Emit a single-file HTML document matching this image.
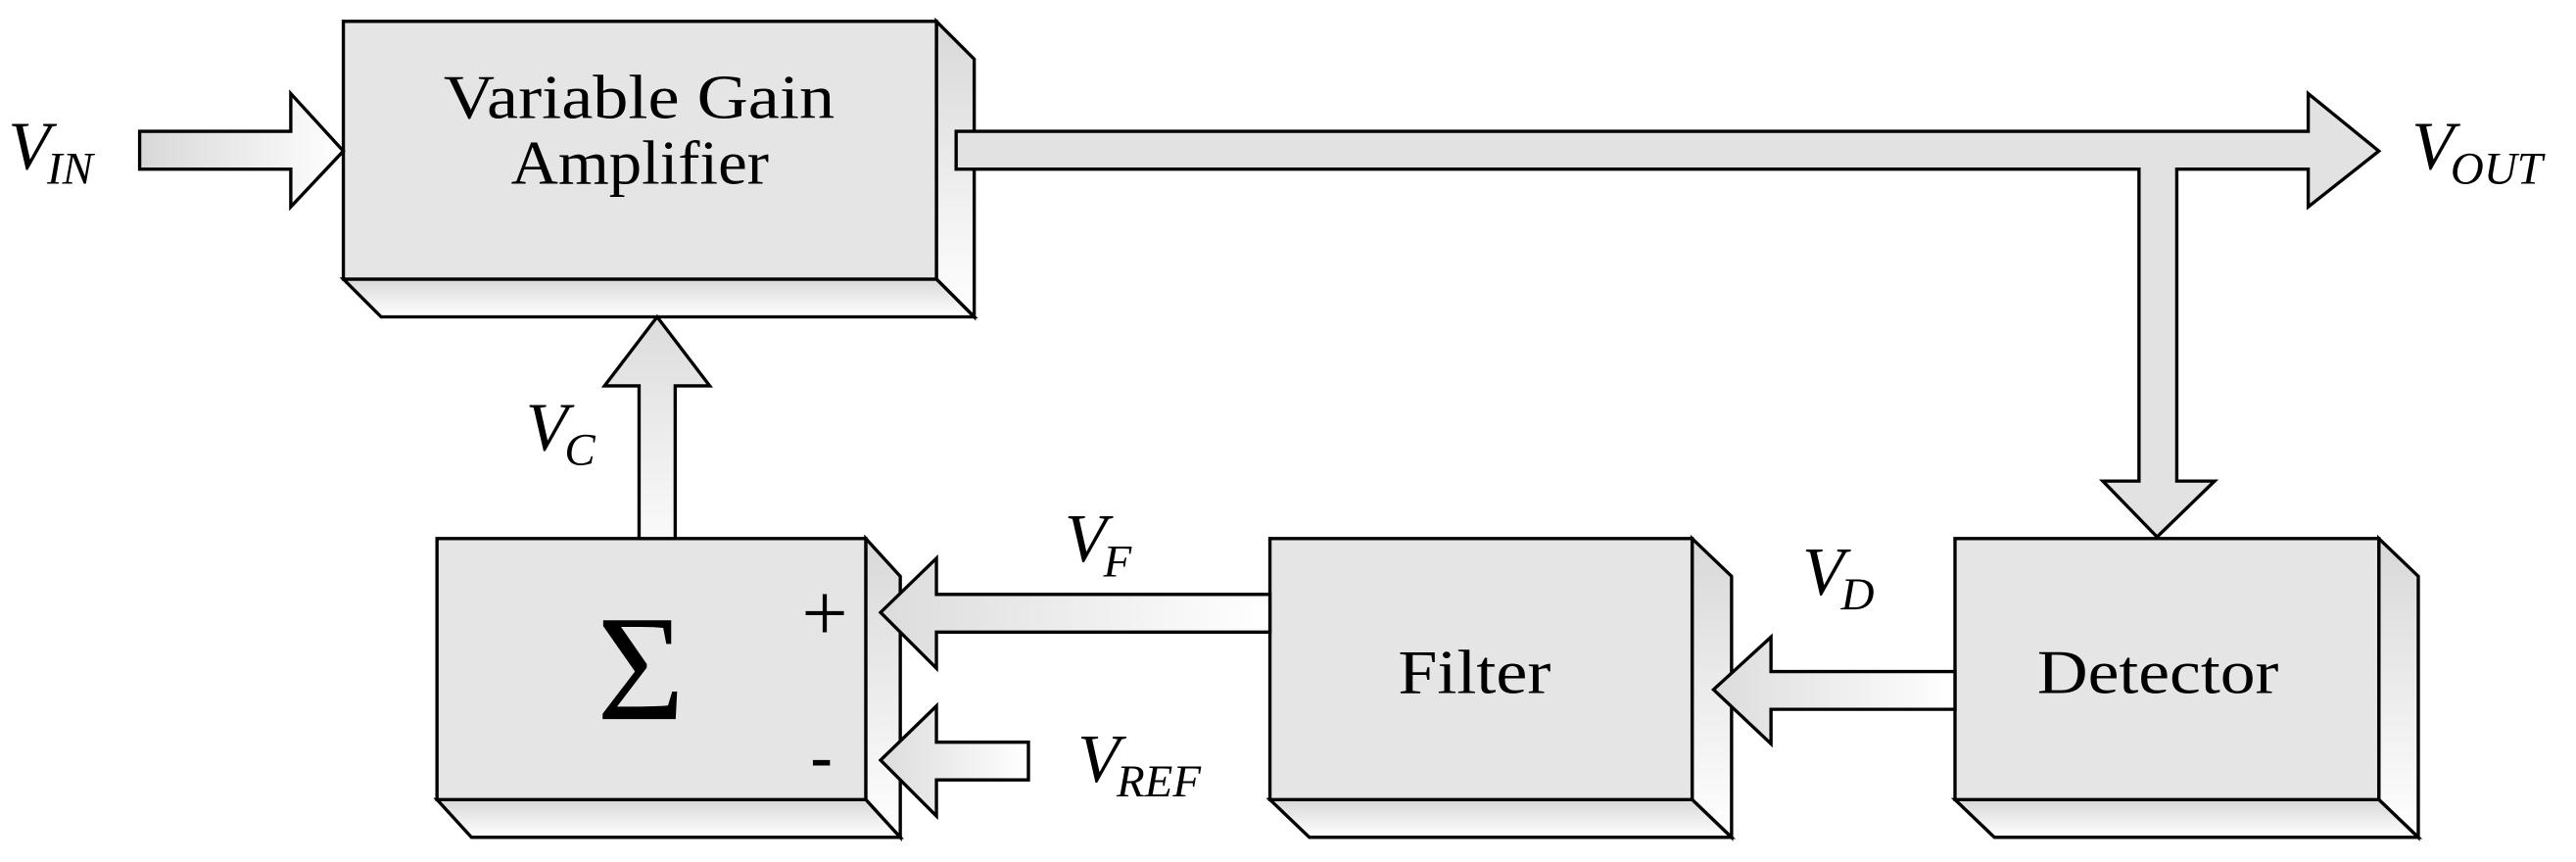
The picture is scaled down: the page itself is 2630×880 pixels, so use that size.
<!DOCTYPE html>
<html><head><meta charset="utf-8"><style>
html,body{margin:0;padding:0;background:#fff;}
svg{display:block;}
text{font-family:"Liberation Serif",serif;fill:#000;}
</style></head><body>
<svg width="2630" height="880" viewBox="0 0 1568 525" preserveAspectRatio="none" xmlns="http://www.w3.org/2000/svg">
<defs>
<linearGradient id="gh" x1="0" y1="0" x2="1" y2="0"><stop offset="0" stop-color="#d8d8d8"/><stop offset="1" stop-color="#fff"/></linearGradient>
<linearGradient id="gv" x1="0" y1="0" x2="0" y2="1"><stop offset="0" stop-color="#d8d8d8"/><stop offset="1" stop-color="#fff"/></linearGradient>
<linearGradient id="gvr" x1="0" y1="1" x2="0" y2="0"><stop offset="0" stop-color="#fafafa"/><stop offset="1" stop-color="#dcdcdc"/></linearGradient>
<linearGradient id="ghr" x1="1" y1="0" x2="0" y2="0"><stop offset="0" stop-color="#fff"/><stop offset="1" stop-color="#dcdcdc"/></linearGradient>
</defs>
<g stroke="#000" stroke-width="2" stroke-linejoin="miter">
<polygon points="570,13 593,36 593,193 570,170" fill="url(#gv)"/>
<polygon points="209,170 570,170 593,193 232,193" fill="url(#gv)"/>
<rect x="209" y="13" width="361" height="157" fill="#e5e5e5"/>
<polygon points="527,328 548,351 548,510 527,487" fill="url(#gv)"/>
<polygon points="266,487 527,487 548,510 287,510" fill="url(#gv)"/>
<rect x="266" y="328" width="261" height="159" fill="#e5e5e5"/>
<polygon points="1030,328 1054,351 1054,510 1030,487" fill="url(#gv)"/>
<polygon points="773,487 1030,487 1054,510 797,510" fill="url(#gv)"/>
<rect x="773" y="328" width="257" height="159" fill="#e5e5e5"/>
<polygon points="1448,328 1472,351 1472,510 1448,487" fill="url(#gv)"/>
<polygon points="1190,487 1448,487 1472,510 1214,510" fill="url(#gv)"/>
<rect x="1190" y="328" width="258" height="159" fill="#e5e5e5"/>
<polygon points="85,80 177,80 177,57 209,92 177,126 177,103 85,103" fill="url(#gh)"/>
<polygon points="582,80 1405,80 1405,57 1448,92 1405,126 1405,103 1325,103 1325,293 1348,293 1313,327 1280,293 1302,293 1302,103 582,103" fill="#e2e2e2"/>
<polygon points="389,328 389,235 368,235 400,193 432,235 411,235 411,328" fill="url(#gvr)"/>
<polygon points="1190,409 1078,409 1078,388 1043,420 1078,453 1078,432 1190,432" fill="url(#ghr)"/>
<polygon points="773,362 570,362 570,340 536,373 570,407 570,385 773,385" fill="url(#ghr)"/>
<polygon points="626,452 570,452 570,430 536,463 570,497 570,475 626,475" fill="url(#ghr)"/>
</g>
<text x="270" y="72" font-size="38" textLength="238" lengthAdjust="spacingAndGlyphs">Variable Gain</text>
<text x="311" y="112" font-size="38" textLength="157" lengthAdjust="spacingAndGlyphs">Amplifier</text>
<text x="851" y="422" font-size="38" textLength="93" lengthAdjust="spacingAndGlyphs">Filter</text>
<text x="1240" y="422" font-size="38" textLength="147" lengthAdjust="spacingAndGlyphs">Detector</text>
<text x="390" y="438" font-size="92" text-anchor="middle">Σ</text>
<text x="502" y="390" font-size="50" font-weight="100" text-anchor="middle">+</text>
<text x="500" y="474" font-size="40" text-anchor="middle" font-weight="bold">-</text>
<text x="5" y="103" font-size="42" font-style="italic">V<tspan font-size="28" dy="9" dx="-2">IN</tspan></text>
<text x="1468" y="103" font-size="42" font-style="italic">V<tspan font-size="28" dy="9" dx="-2">OUT</tspan></text>
<text x="320" y="274" font-size="42" font-style="italic">V<tspan font-size="28" dy="9" dx="-2">C</tspan></text>
<text x="648" y="342" font-size="42" font-style="italic">V<tspan font-size="28" dy="9" dx="-2">F</tspan></text>
<text x="1097" y="362" font-size="42" font-style="italic">V<tspan font-size="28" dy="9" dx="-2">D</tspan></text>
<text x="656" y="476" font-size="42" font-style="italic">V<tspan font-size="28" dy="9" dx="-2">REF</tspan></text>
</svg>
</body></html>
